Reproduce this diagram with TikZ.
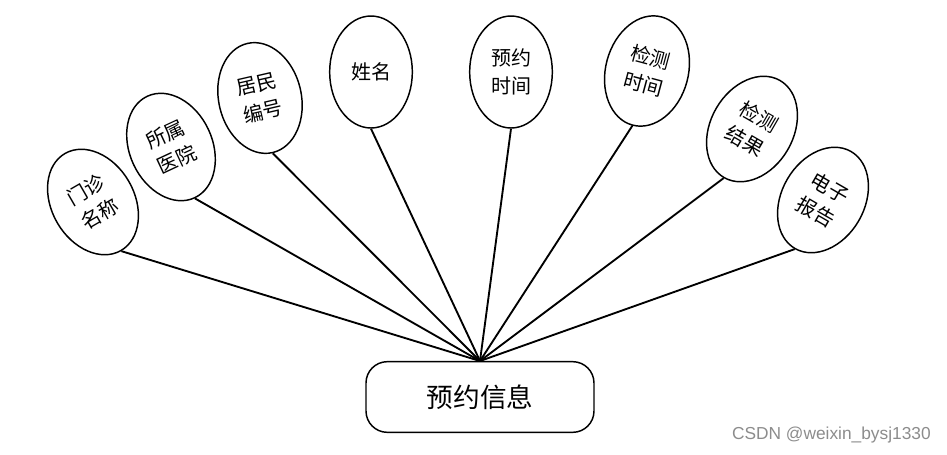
\documentclass[tikz,border=0pt]{standalone}
\usepackage{fontspec}
\newfontfamily\cjk{Noto Sans CJK SC}
\newfontfamily\wm{Liberation Sans}
\usetikzlibrary{shapes.geometric}
\begin{document}
\begin{tikzpicture}[x=0.75pt,y=-0.75pt,
  attr/.style={ellipse,draw,line width=1.1pt,minimum width=62pt,minimum height=84pt,inner sep=0pt,align=center,font=\cjk\fontsize{15}{21}\selectfont},
  ent/.style={rectangle,rounded corners=16pt,draw,line width=1.1pt,minimum width=171pt,minimum height=53pt,font=\cjk\fontsize{20}{24}\selectfont},
  link/.style={line width=1.4pt}]
\useasboundingbox (0,0) rectangle (947,454);
\node[ent] (box) at (480,397) {预约信息};
\coordinate (hub) at (480,361);
\node[attr,rotate=30] (a1) at (93,202) {门诊\\名称};
\node[attr,rotate=25] (a2) at (171,147) {所属\\医院};
\node[attr,rotate=13] (a3) at (260,98) {居民\\编号};
\node[attr] (a4) at (371,72) {姓名};
\node[attr] (a5) at (511,72) {预约\\时间};
\node[attr,rotate=-15] (a6) at (647,71) {检测\\时间};
\node[attr,rotate=-30] (a7) at (752,129) {检测\\结果};
\node[attr,rotate=-30] (a8) at (823,200) {电子\\报告};
\foreach \i in {1,...,8} \draw[link] (a\i.south) -- (hub);
\node[anchor=east,text=black!45,font=\wm\fontsize{13}{15}\selectfont,inner sep=0pt] (wm) at (931,435) {CSDN @weixin\_bysj1330};
\end{tikzpicture}
\end{document}
